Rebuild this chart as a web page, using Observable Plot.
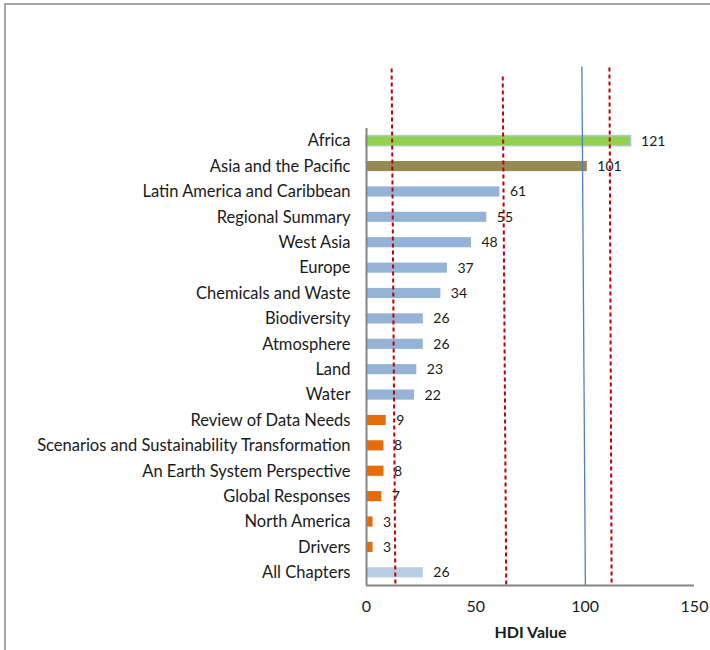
<!DOCTYPE html>
<html><head><meta charset="utf-8">
<script src="https://cdn.jsdelivr.net/npm/d3@7"></script>
<script src="https://cdn.jsdelivr.net/npm/@observablehq/plot@0.6"></script>
<style>
body{margin:0;background:#fff;}
#wrap{position:relative;width:710px;height:650px;overflow:hidden;}
#frame{position:absolute;left:4px;top:3px;width:800px;height:800px;border-left:2px solid #a6a6a6;border-top:2px solid #a6a6a6;pointer-events:none;}
svg{font-family:"Lato","Liberation Sans",sans-serif;}
svg [aria-label="x-axis label"] text{font-weight:bold;}
</style></head>
<body><div id="wrap"><div id="frame"></div></div>
<script>
const categories = ["Africa","Asia and the Pacific","Latin America and Caribbean","Regional Summary","West Asia","Europe","Chemicals and Waste","Biodiversity","Atmosphere","Land","Water","Review of Data Needs","Scenarios and Sustainability Transformation","An Earth System Perspective","Global Responses","North America","Drivers","All Chapters"];
const values = [121,101,61,55,48,37,34,26,26,23,22,9,8,8,7,3,3,26];
const colors = ["#92d050","#948a54","#95b3d7","#95b3d7","#95b3d7","#95b3d7","#95b3d7","#95b3d7","#95b3d7","#95b3d7","#95b3d7","#e46c0a","#e46c0a","#e46c0a","#e46c0a","#e46c0a","#e46c0a","#b9cde5"];
// reference lines: x at top and bottom, top end in category-index units
const refLineXTop = [11.5, 62.3, 98.5, 111.1];
const refLineXBottom = [13.2, 63.9, 100.1, 112.1];
const refLineTop = [-2.86, -2.55, -2.94, -2.9];
const refLineColor = ["#c00000","#c00000","#4f81bd","#c00000"];
const refLineDash = ["4,3","4,3",null,"4,3"];

const data = categories.map((name,i)=>({name,i,value:values[i],color:colors[i]}));
const lines = refLineXTop.map((x,i)=>({x1:x,x2:refLineXBottom[i],y1:refLineTop[i],y2:categories.length-0.5,color:refLineColor[i],dash:refLineDash[i]}));
const half = 0.2;

const chart = Plot.plot({
  width:710, height:650,
  marginLeft:366, marginRight:16, marginTop:66, marginBottom:65,
  style:{fontSize:"14px", color:"#1a1a1a", background:"transparent"},
  x:{domain:[0,150]},
  y:{domain:[categories.length-0.5,-2.94]},
  marks:[
    Plot.rectX(data,{x1:0,x2:"value",y1:d=>d.i-half,y2:d=>d.i+half,fill:"color"}),
    Plot.rectX(data.filter(d=>d.name==="Africa"),{x1:0,x2:"value",y1:d=>d.i-half,y2:d=>d.i+half,fill:"none",stroke:"#b0c7e6",strokeWidth:1.5}),
    Plot.text(data,{x:"value",y:"i",text:d=>String(d.value),dx:10,textAnchor:"start",fontSize:14,fill:"#1a1a1a"}),
    ...lines.map(l=>Plot.link([l],{x1:"x1",x2:"x2",y1:"y1",y2:"y2",stroke:l.color,strokeWidth:l.dash?2:1.3,strokeDasharray:l.dash})),
    Plot.ruleX([0],{y1:-0.5,y2:categories.length-0.5,stroke:"#868686",strokeWidth:2}),
    Plot.ruleY([categories.length-0.5],{x1:0,x2:150,stroke:"#868686",strokeWidth:2}),
    Plot.axisY({ticks:d3.range(categories.length),tickFormat:i=>categories[i],tickSize:0,tickPadding:16,fontSize:16.5,label:null}),
    Plot.axisX({ticks:[0,50,100,150],tickSize:0,tickPadding:15,fontSize:16,label:"HDI Value",labelAnchor:"center",labelArrow:"none",labelOffset:52})
  ]
});
document.getElementById("wrap").prepend(chart);
</script></body></html>
